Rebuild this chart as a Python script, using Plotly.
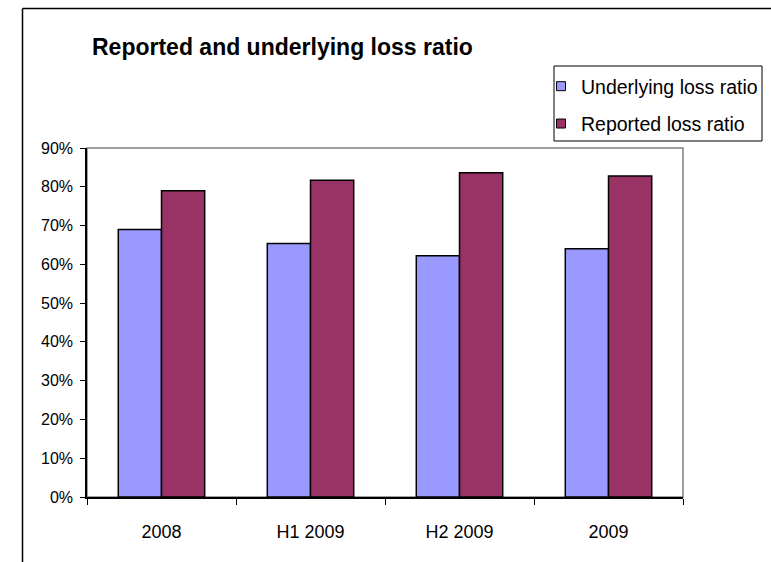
import plotly.graph_objects as go

categories = ["2008", "H1 2009", "H2 2009", "2009"]
underlying = [0.69, 0.654, 0.622, 0.640]
reported = [0.790, 0.817, 0.836, 0.828]
series_names = ["Underlying loss ratio", "Reported loss ratio"]
colors = ["#9999FF", "#993366"]

W, H = 771, 562
L, R, T, B = 87, 88, 148, 65
ph = H - T - B
pw = W - L - R

FONT = "Liberation Sans, Arial, sans-serif"

fig = go.Figure()
for i, (name, vals, col) in enumerate(zip(series_names, [underlying, reported], colors)):
    fig.add_trace(go.Bar(x=categories, y=vals, name=name, showlegend=False,
                         marker=dict(color=col, line=dict(color="black", width=1.5))))
for i, (name, col) in enumerate(zip(series_names, colors)):
    fig.add_trace(go.Scatter(x=[None], y=[None], mode="markers", name=name, legendgroup=f"g{i}",
                             marker=dict(symbol="square", size=9, color=col, line=dict(color="black", width=1))))


def px_x(p):
    return (p - L) / pw


def px_y(p):
    return (H - B - p) / ph


fig.update_layout(
    width=W, height=H,
    margin=dict(l=L, r=R, t=T, b=B, autoexpand=False),
    paper_bgcolor="white", plot_bgcolor="white",
    font=dict(family=FONT, color="black", size=16),
    barmode="group", bargap=0.42, bargroupgap=0,
    title=dict(text="<b>Reported and underlying loss ratio</b>", x=px_x(92), xref="paper", xanchor="left",
               y=1 - 47 / H, yref="container", yanchor="middle", font=dict(size=23, family=FONT, color="black")),
    legend=dict(x=px_x(541), y=px_y(67), xanchor="left", yanchor="top", borderwidth=0,
                bgcolor="rgba(0,0,0,0)", font=dict(size=19.5, family=FONT), traceorder="grouped", tracegroupgap=9,
                itemwidth=30),
    xaxis=dict(type="category", tickson="boundaries", ticks="outside", ticklen=6, tickcolor="black",
               showline=True, linecolor="black", linewidth=1.5, showgrid=False, tickfont=dict(size=18),
               range=[-0.5, 3.5], ticklabelstandoff=18),
    yaxis=dict(range=[0, 0.9], dtick=0.1, tickformat=".0%", ticks="outside", ticklen=5, tickcolor="black",
               showline=True, linecolor="black", linewidth=1.5, showgrid=False, zeroline=False,
               tickfont=dict(size=16), ticklabelstandoff=4),
    shapes=[
        dict(type="rect", xref="paper", yref="paper", x0=0, x1=1, y0=0, y1=1, line=dict(color="#808080", width=1.5), layer="below"),
        dict(type="line", xref="paper", yref="paper", x0=px_x(22.5), x1=px_x(22.5), y0=px_y(8.5), y1=px_y(600), line=dict(color="black", width=1.5)),
        dict(type="line", xref="paper", yref="paper", x0=px_x(22.5), x1=px_x(800), y0=px_y(8.5), y1=px_y(8.5), line=dict(color="black", width=1.5)),
        dict(type="rect", xref="paper", yref="paper", x0=px_x(554), x1=px_x(762), y0=px_y(66), y1=px_y(141), line=dict(color="black", width=1)),
    ],
)

fig.write_html("out.html")
